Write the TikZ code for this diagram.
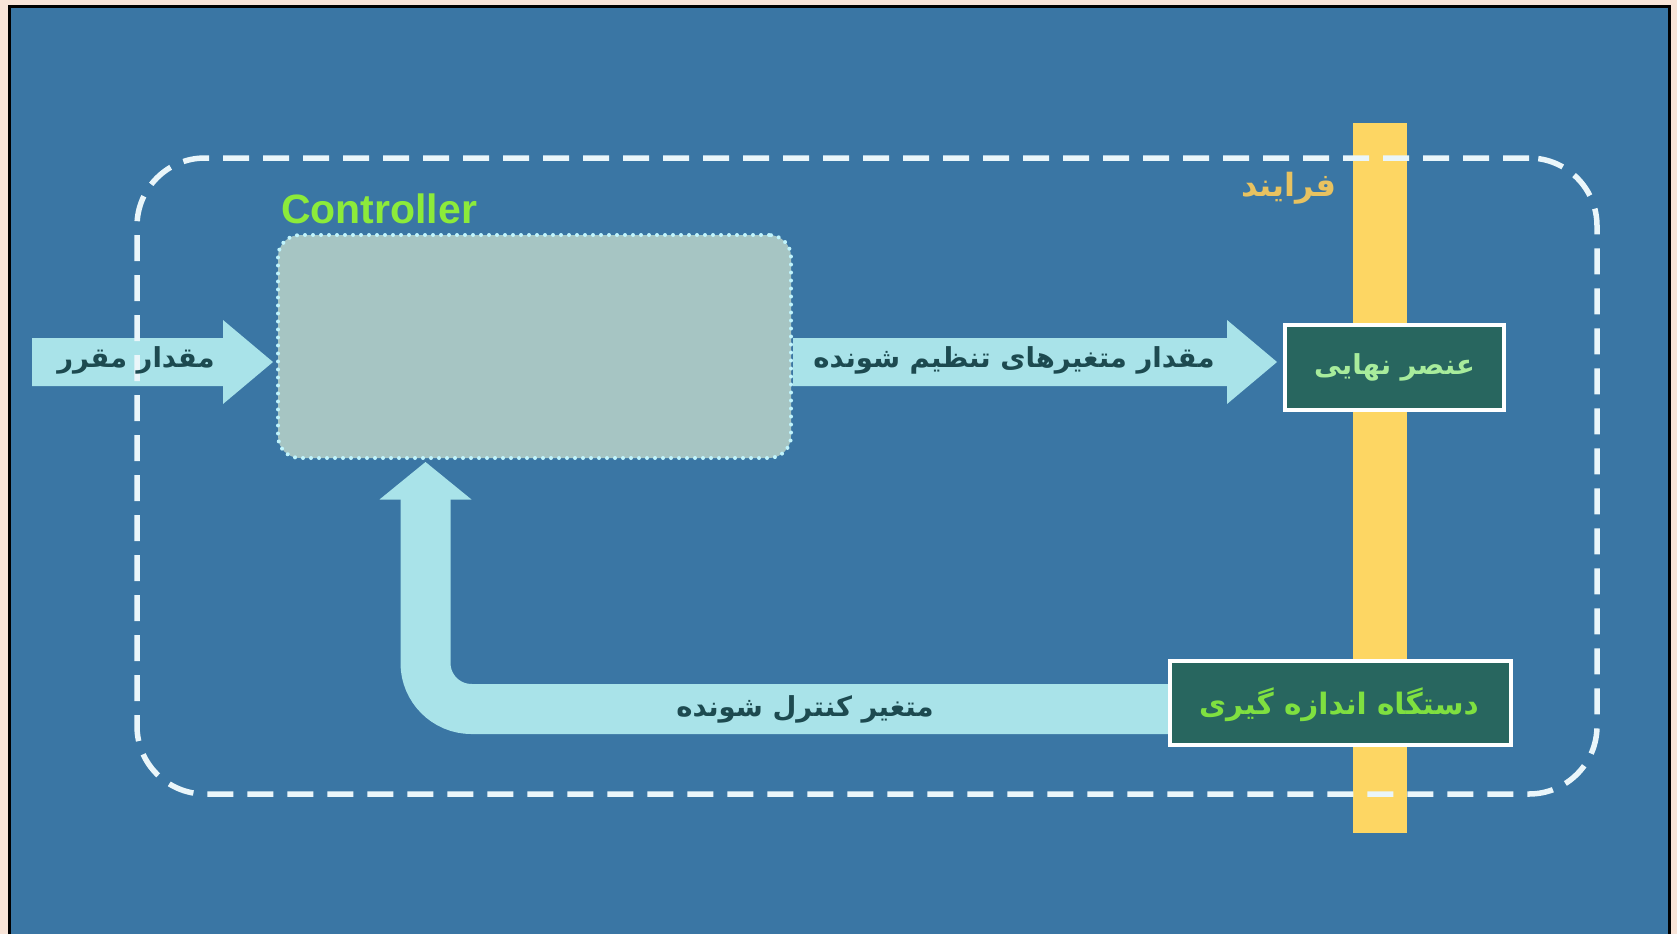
\documentclass[tikz,border=0pt]{standalone}
\usepackage{fontspec}
\setmainfont{Liberation Sans}
\newfontfamily\fa[Script=Arabic]{DejaVu Sans}
\TeXXeTstate=1
\usetikzlibrary{calc}

\definecolor{peach}{HTML}{F8E4D8}
\definecolor{bgblue}{HTML}{3A76A4}
\definecolor{arrowfill}{HTML}{A9E3E9}
\definecolor{ctrlfill}{HTML}{A6C5C3}
\definecolor{dotcol}{HTML}{C0F4FC}
\definecolor{boxfill}{HTML}{28665F}
\definecolor{labeldark}{HTML}{1D4A50}
\definecolor{measgreen}{HTML}{7FE040}
\definecolor{finalgreen}{HTML}{A8EC9C}
\definecolor{ctrlgreen}{HTML}{8CEB3A}
\definecolor{baryellow}{HTML}{FDD663}
\definecolor{proctext}{HTML}{E8C260}
\definecolor{dashwhite}{HTML}{EAF6FA}

\tikzset{
  falabel/.style={font=\fa\bfseries\fontsize{27.5}{32}\selectfont, text=labeldark, inner sep=0pt},
  boxlabel/.style={font=\fa\bfseries\fontsize{27.5}{32}\selectfont, inner sep=0pt},
  unitbox/.style={draw=white, line width=4pt, fill=boxfill, inner sep=0pt},
  ctrlbox/.style={draw=dotcol, fill=ctrlfill, line width=4pt, line cap=round,
    dash pattern=on 0pt off 8pt, rounded corners=22pt, inner sep=0pt},
  procframe/.style={draw=dashwhite, line width=5.5pt, dash pattern=on 26pt off 14pt,
    rounded corners=68pt, inner sep=0pt},
}

% horizontal broad arrow from #1 to the tip #2
\newcommand\broadarrow[2]{%
  \fill[arrowfill] ($(#1)+(0,-24)$) -- ($(#2)+(-50,-24)$) -- ($(#2)+(-50,-42)$)
    -- (#2) -- ($(#2)+(-50,42)$) -- ($(#2)+(-50,24)$) -- ($(#1)+(0,24)$) -- cycle;}

\begin{document}
\begin{tikzpicture}[x=1pt,y=-1pt]
\useasboundingbox (0,0) rectangle (1677,934);

% page and frame
\fill[peach] (0,0) rectangle (1677,934);
\fill[bgblue] (9,5) rectangle (1671,934);
\draw[black, line width=3pt] (9.5,934) -- (9.5,6.5) -- (1669.5,6.5) -- (1669.5,934);

% process bar
\fill[baryellow] (1353,123) rectangle (1407,833);
\node[text=proctext, font=\fa\bfseries\fontsize{32}{36}\selectfont, inner sep=0pt] (proclabel)
  at (1289,188) {\beginR فرایند\endR};

% blocks
\node[ctrlbox, minimum width=513pt, minimum height=223pt] (ctrl) at (534.5,346.5) {};
\node[font=\bfseries\fontsize{41}{46}\selectfont, text=ctrlgreen, inner sep=0pt]
  (ctrllabel) at (379,209) {Controller};
\node[unitbox, minimum width=219pt, minimum height=85pt] (final) at (1394.5,367.5) {};
\node[unitbox, minimum width=341pt, minimum height=84pt] (meas) at (1340.5,703) {};

% connectors
\coordinate (setsrc) at (32,362);
\coordinate (inTip) at ($(ctrl.west)+(-3,15.5)$);
\broadarrow{setsrc}{inTip}
\coordinate (outSrc) at ($(ctrl.east)+(0,15.5)$);
\coordinate (outTip) at ($(final.west)+(-6,-5.5)$);
\broadarrow{outSrc}{outTip}

\coordinate (fbSrc) at ($(meas.west)+(2,6)$);
\coordinate (fbTip) at ($(ctrl.south west)+(149.5,2)$);
\draw[arrowfill, line width=50pt, rounded corners=46pt]
  (fbSrc) -| ($(fbTip)+(0,37)$);
\fill[arrowfill] (fbTip) -- ($(fbTip)+(-46,37.5)$) -- ($(fbTip)+(46,37.5)$) -- cycle;

% redraw the measuring unit over the feedback band
\node[unitbox, minimum width=341pt, minimum height=84pt] at (meas) {};

% process boundary
\node[procframe, minimum width=1460pt, minimum height=636pt] (proc) at (867,476) {};

% labels
\node[falabel] (setlabel) at (136,360) {\beginR مقدار مقرر\endR};
\node[falabel] (outlabel) at (1014,360) {\beginR مقدار متغیرهای تنظیم شونده\endR};
\node[falabel] (fblabel) at (805,709) {\beginR متغیر کنترل شونده\endR};
\node[boxlabel, text=finalgreen] (finallabel) at (final) {\beginR عنصر نهایی\endR};
\node[boxlabel, text=measgreen, font=\fa\bfseries\fontsize{29.5}{34}\selectfont]
  (measlabel) at (1339,705) {\beginR دستگاه اندازه گیری\endR};
\end{tikzpicture}
\end{document}
